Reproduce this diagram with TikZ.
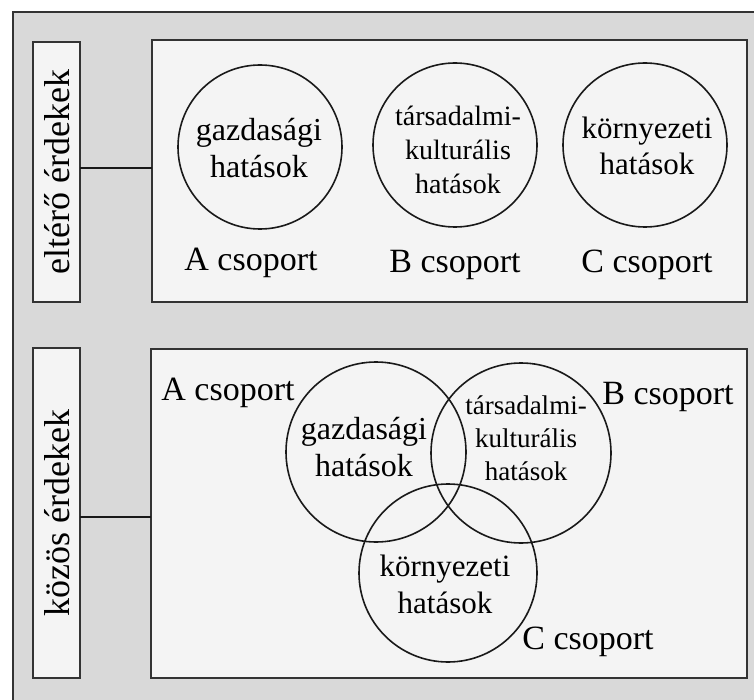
\documentclass[tikz,border=0pt]{standalone}
\usepackage{fontspec}
\setmainfont{Liberation Serif}
\definecolor{bggray}{HTML}{D9D9D9}
\definecolor{panel}{HTML}{F4F4F4}
\definecolor{edge}{HTML}{333333}
\begin{document}
\begin{tikzpicture}[x=1pt,y=-1pt,
  outerbox/.style={draw=edge, line width=2pt, fill=bggray},
  pbox/.style={draw=edge, line width=2pt, fill=panel, inner sep=0pt, outer sep=0pt},
  circ/.style={draw=black!90, line width=1.6pt, circle, inner sep=0pt, minimum size=#1},
  conn/.style={draw=black!90, line width=1.6pt},
  big/.style={font=\fontsize{34}{40}\selectfont, inner sep=0pt},
  ctext/.style={font=\fontsize{32}{37}\selectfont, align=center, inner sep=0pt},
  btext/.style={font=\fontsize{28}{34}\selectfont, align=center, inner sep=0pt},
  vlabel/.style={font=\fontsize{36}{40}\selectfont, rotate=90, inner sep=0pt}]
\useasboundingbox (0,0) rectangle (754,700);
\path[outerbox] (13,12) rectangle (775,725);
% left label boxes
\node[pbox, minimum width=47pt, minimum height=260pt] (lb1) at (56.5,172) {};
\node[pbox, minimum width=47pt, minimum height=330pt] (lb2) at (56.5,513) {};
\node[vlabel] (lt1) at (57,172) {eltérő érdekek};
\node[vlabel] (lt2) at (57,513) {közös érdekek};
% panels
\node[pbox, minimum width=595pt, minimum height=262pt] (p1) at (449.5,171) {};
\node[pbox, minimum width=596pt, minimum height=329pt] (p2) at (449,513.5) {};
% connectors
\coordinate (j1) at (0,168);
\coordinate (j2) at (0,517);
\draw[conn] (lb1.east |- j1) -- (p1.west |- j1);
\draw[conn] (lb2.east |- j2) -- (p2.west |- j2);
% top circles
\node[circ=164pt] (ta) at (260,147) {};
\node[circ=164pt] (tb) at (455,145) {};
\node[circ=164pt] (tc) at (645,145) {};
\node[ctext] (tat) at (259,148) {gazdasági\\hatások};
\node[btext] (tbt) at (458,150) {társadalmi-\\kulturális\\hatások};
\node[ctext, font=\fontsize{31}{36}\selectfont] (tct) at (647,146) {környezeti\\hatások};
\node[big] (tal) at (251,263) {A csoport};
\node[big] (tbl) at (455,265) {B csoport};
\node[big] (tcl) at (647,265) {C csoport};
% venn
\node[circ=180pt] (va) at (376,452) {};
\node[circ=180pt] (vb) at (521,453) {};
\node[circ=178pt] (vc) at (448,573) {};
\node[ctext] (vat) at (364,447) {gazdasági\\hatások};
\node[btext, font=\fontsize{27}{33}\selectfont] (vbt) at (526,438) {társadalmi-\\kulturális\\hatások};
\node[ctext, font=\fontsize{31}{37}\selectfont] (vct) at (445,584) {környezeti\\hatások};
\node[big] (val) at (228,393) {A csoport};
\node[big] (vbl) at (668,397) {B csoport};
\node[big] (vcl) at (588,642) {C csoport};
\end{tikzpicture}
\end{document}
